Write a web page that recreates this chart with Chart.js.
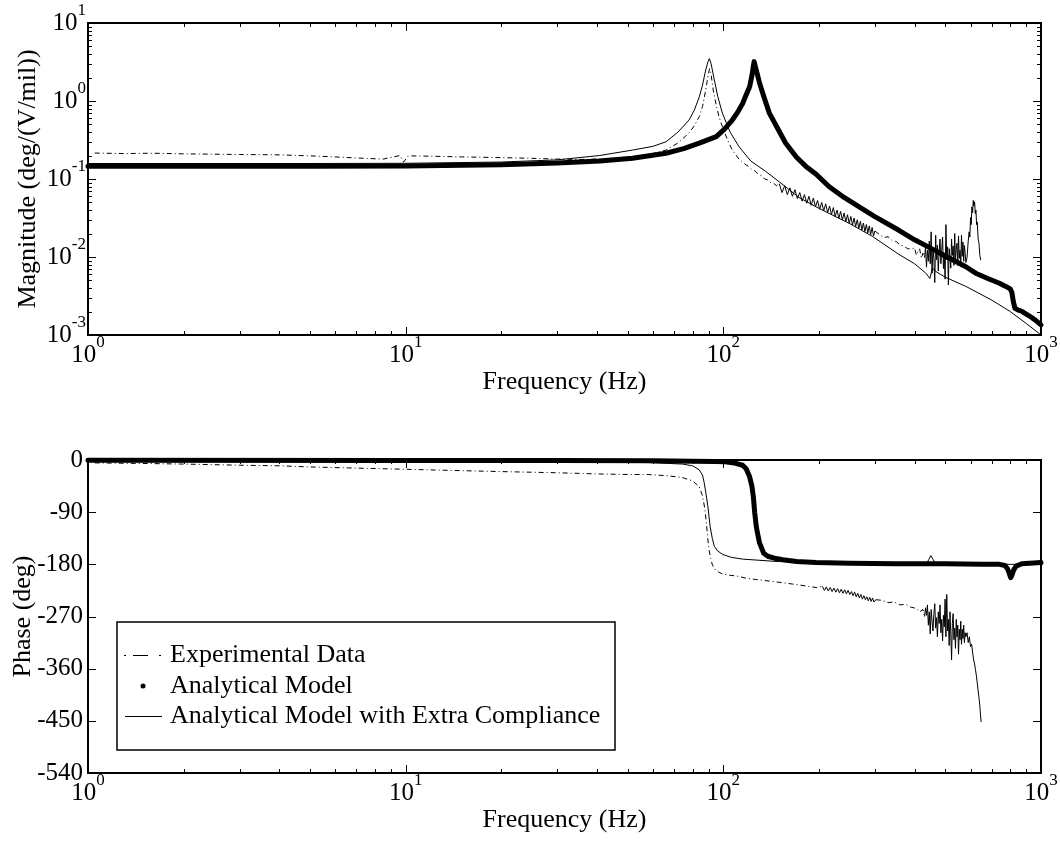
<!DOCTYPE html>
<html lang="en">
<head>
    <meta charset="UTF-8">
    <meta name="viewport" content="width=device-width, initial-scale=1.0">
    <title>Magnitude and Phase Response</title>
    <script src="https://cdn.jsdelivr.net/npm/chart.js"></script>
    <style>
        * {
            margin: 0;
            padding: 0;
            box-sizing: border-box;
        }

        body {
            background: #fff;
            width: 1060px;
            height: 846px;
            overflow: hidden;
            position: relative;
        }

        .panel {
            position: absolute;
            left: 0;
            width: 1060px;
        }

        #magPanel {
            top: 0;
            height: 400px;
        }

        #phasePanel {
            top: 400px;
            height: 446px;
        }
    </style>
</head>
<body>
    <div class="panel" id="magPanel"><canvas id="magChart"></canvas></div>
    <div class="panel" id="phasePanel"><canvas id="phaseChart"></canvas></div>

    <script>
        const seriesNames = ['Experimental Data', 'Analytical Model', 'Analytical Model with Extra Compliance'];
        const freqExponents = [0, 1, 2, 3];
        const magExponents = [1, 0, -1, -2, -3];
        const phaseTicks = [0, -90, -180, -270, -360, -450, -540];

        // magnitude, experimental (deg/(V/mil))
        const expMagFreq = [
            1.05, 1.3, 1.6, 2, 2.5, 3, 4, 5, 6, 7, 8.5, 9.6, 9.85, 10.2, 12, 15, 20, 25, 30, 35,
            40, 45, 50, 55, 60, 66, 72, 78, 81, 84, 86, 88, 89.5, 90.5, 91.5, 93, 95, 97, 99.3, 103, 106.7, 112, 117,
            120, 123, 126, 129, 132, 135, 138, 141, 144, 147,
            150, 153, 156, 159, 162, 165, 168, 171, 174, 177, 180, 183, 186, 189, 192, 195, 198, 201, 204, 207,
            210, 213, 216, 219, 222, 225, 228, 231, 234, 237, 240, 243, 246, 249, 252, 255, 258, 261, 264, 267,
            270, 273, 276, 279, 282, 285, 288, 291, 294, 297, 300,
            310, 320, 330, 340, 350, 360, 370, 380, 390, 400, 405, 410, 415, 420, 425,
            430, 433, 436, 439, 442, 445, 448, 451, 454, 457, 460, 463, 466, 469, 472, 475, 478, 481, 484, 487,
            490, 493, 496, 499, 502, 505, 508, 511, 514, 517, 520, 523, 526, 529, 532, 535, 538, 541, 544, 547,
            550, 553, 556, 559, 562, 565, 568, 571, 574, 577, 580,
            585, 590, 594, 597, 600, 603, 606, 609, 612, 615, 618, 621, 624, 627, 630, 634, 638, 642, 646
        ];
        const expMag = [
            0.215, 0.212, 0.214, 0.21, 0.208, 0.206, 0.204, 0.198, 0.192, 0.186, 0.18, 0.2, 0.165, 0.198, 0.196, 0.192, 0.188, 0.184, 0.18, 0.178,
            0.18, 0.185, 0.192, 0.2, 0.212, 0.235, 0.29, 0.39, 0.48, 0.63, 0.85, 1.38, 2.1, 2.6, 2.2, 1.35, 0.88, 0.62, 0.47, 0.32, 0.235, 0.18, 0.155,
            0.145, 0.132, 0.126, 0.115, 0.11, 0.1, 0.097, 0.09, 0.088, 0.082,
            0.087, 0.067, 0.082, 0.063, 0.077, 0.06, 0.073, 0.056, 0.067, 0.052, 0.063, 0.049, 0.06, 0.046, 0.057, 0.044, 0.053, 0.041, 0.05, 0.039,
            0.048, 0.037, 0.045, 0.035, 0.043, 0.033, 0.04, 0.0313, 0.0384, 0.0298, 0.0366, 0.0284, 0.0348, 0.027, 0.0331, 0.0257, 0.0316, 0.0245, 0.03, 0.0233,
            0.0287, 0.0222, 0.0273, 0.0212, 0.0261, 0.0203, 0.025, 0.0194, 0.0239, 0.0186, 0.0215,
            0.0195, 0.0178, 0.0182, 0.0162, 0.0158, 0.0142, 0.0138, 0.0128, 0.0126, 0.0131, 0.0106, 0.0117, 0.0127, 0.0096, 0.0112,
            0.0098, 0.0135, 0.0074, 0.0122, 0.0088, 0.016, 0.0082, 0.021, 0.0062, 0.013, 0.0095, 0.0047, 0.019, 0.0092, 0.0142, 0.0066, 0.0118, 0.017, 0.0082, 0.0125,
            0.018, 0.0071, 0.011, 0.0052, 0.026, 0.0092, 0.0135, 0.0044, 0.0128, 0.0095, 0.0072, 0.017, 0.0105, 0.0138, 0.0078, 0.02, 0.0092, 0.0125, 0.015, 0.0078,
            0.0186, 0.0096, 0.0122, 0.0075, 0.019, 0.0102, 0.0155, 0.0088, 0.014, 0.0112, 0.0085,
            0.0098, 0.016, 0.021, 0.018, 0.032, 0.026, 0.044, 0.037, 0.053, 0.045, 0.051, 0.036, 0.04, 0.026, 0.028, 0.017, 0.015, 0.0105, 0.0091
        ];

        // magnitude, analytical model
        const modelMagFreq = [
            1, 5, 10, 20, 30, 40.8, 51.8, 66, 75, 84, 95, 101, 106.7, 111, 115, 118, 121, 123, 124.3, 125,
            126, 128, 130, 134, 139.6, 148, 157, 170, 182, 196, 215, 240, 270, 300, 357, 400, 454, 500, 580, 623,
            680, 740, 775, 800, 810, 818, 828, 845, 873, 920, 960, 1000
        ];
        const modelMag = [
            0.146, 0.146, 0.147, 0.152, 0.16, 0.17, 0.184, 0.214, 0.245, 0.288, 0.35, 0.44, 0.57, 0.72, 0.93, 1.2, 1.52, 2.1, 2.8, 3.2,
            2.8, 2.2, 1.7, 1.15, 0.7, 0.45, 0.29, 0.19, 0.145, 0.115, 0.08, 0.058, 0.043, 0.033, 0.022, 0.0166, 0.0127, 0.0103, 0.0075, 0.0062,
            0.0053, 0.0046, 0.0042, 0.0039, 0.0035, 0.0027, 0.0022, 0.0021, 0.002, 0.00175, 0.00155, 0.00135
        ];

        // magnitude, analytical model with extra compliance
        const compMagFreq = [
            1, 5, 10, 20, 30, 40.8, 51.8, 60, 66, 72, 78, 81, 84, 86, 88, 89.5, 90.4, 91.5, 93.7, 96,
            99.3, 105, 112, 122, 136, 150, 173, 200, 249, 294, 357, 400, 434, 441, 447, 455, 470, 500, 580, 700,
            800, 900, 1000
        ];
        const compMag = [
            0.158, 0.158, 0.159, 0.165, 0.176, 0.2, 0.235, 0.262, 0.3, 0.4, 0.57, 0.76, 1.13, 1.6, 2.5, 3.2, 3.5, 3.0, 1.86, 1.15,
            0.7, 0.4, 0.26, 0.17, 0.125, 0.092, 0.058, 0.042, 0.027, 0.0185, 0.0108, 0.0082, 0.0062, 0.0057, 0.0053, 0.0072, 0.0064, 0.0055, 0.0042, 0.0028,
            0.002, 0.0014, 0.001
        ];

        // phase, experimental (deg)
        const expPhaseFreq = [
            1.05, 1.5, 2, 3, 4, 5, 7, 10, 14, 20, 30, 40, 50, 58, 66, 74, 80, 84, 86, 87.5,
            88.5, 89.3, 90.2, 91.2, 92.4, 94.5, 97, 100, 105, 110, 118, 126, 135, 145, 155, 165, 175, 185, 196,
            205, 208, 211, 214, 217, 220, 223, 226, 229, 232, 235, 238, 241, 244, 247, 250, 253, 256, 259, 262,
            265, 268, 271, 274, 277, 280, 283, 286, 289, 292, 295, 298, 302,
            315, 330, 345, 360, 375, 390, 405, 415, 425,
            430, 433, 436, 439, 442, 445, 448, 451, 454, 457, 460, 463, 466, 469, 472, 475, 478, 481, 484, 487,
            490, 493, 496, 499, 502, 505, 508, 511, 514, 517, 520, 523, 526, 529, 532, 535, 538, 541, 544, 547,
            550, 553, 556, 559, 562, 565, 568, 571, 574, 577, 580,
            585, 590, 595, 600, 605, 610, 614, 618, 622, 626, 630, 634, 638, 642, 645, 648
        ];
        const expPhase = [
            -5, -6, -7, -9, -10, -12, -14, -16, -18, -20, -22, -24, -25, -25, -27, -30, -36, -46, -62, -85,
            -110, -135, -155, -170, -181, -190, -194, -197, -199, -200, -204, -206, -208, -210, -212, -214, -216, -218, -220,
            -218, -225, -219, -226, -220, -227, -221, -228, -222, -229, -223, -230, -224, -231, -225, -232, -227, -234, -228, -236,
            -230, -238, -232, -240, -234, -241, -236, -243, -237, -244, -238, -245, -241,
            -242, -246, -245, -250, -249, -254, -256, -262, -258,
            -270, -255, -268, -250, -285, -262, -300, -258, -278, -295, -265, -248, -290, -272, -305, -262, -282, -250, -298, -275,
            -312, -268, -288, -240, -305, -232, -295, -275, -320, -262, -300, -345, -282, -265, -310, -290, -325, -275, -305, -285,
            -335, -292, -310, -278, -318, -292, -308, -285, -315, -298, -305,
            -298, -315, -305, -322, -318, -335, -345, -352, -362, -372, -385, -398, -410, -425, -440, -452
        ];

        // phase, analytical model
        const modelPhaseFreq = [
            1, 10, 30, 60, 80, 95, 101.5, 108, 115, 118, 121, 123, 124.3, 125.5, 127, 128.5, 130, 132, 134, 138,
            146.5, 154, 170, 196, 250, 350, 500, 650, 740, 770, 785, 795, 803, 810, 820, 835, 870, 920, 1000
        ];
        const modelPhase = [
            -0.5, -0.8, -1, -1.5, -2, -2.5, -3, -5, -9, -15, -29, -45, -63, -90, -115, -130, -143, -152, -161, -166,
            -170, -172, -175, -177, -178, -179, -179, -180, -180, -182, -188, -196, -203, -199, -190, -183, -179, -178, -177
        ];

        // phase, analytical model with extra compliance
        const compPhaseFreq = [
            1, 10, 30, 58.5, 74.3, 80, 84, 86, 87.1, 88.3, 89.4, 90.9, 92.3, 93.7, 96, 99.6, 106, 115, 146.5, 200,
            300, 420, 436, 443, 450, 458, 466, 600, 800, 1000
        ];
        const compPhase = [
            -0.5, -1, -2, -4.5, -7, -10, -17, -26, -40, -60, -80, -115, -135, -149, -157, -163, -168, -171, -175, -177,
            -178, -179, -179, -172, -165, -172, -179, -180, -180, -180
        ];

        const FONT = '"Liberation Serif", "Times New Roman", serif';
        const TICK_FONT = '25px ' + FONT;
        const SUP_FONT = '17px ' + FONT;
        const TITLE_FONT = '26px ' + FONT;
        const toPoints = (xs, ys) => xs.map((x, i) => ({ x: x, y: ys[i] }));

        function lineSet(label, xs, ys, style) {
            return Object.assign({
                label: label,
                data: toPoints(xs, ys),
                showLine: true,
                pointRadius: 0,
                borderColor: '#000',
                backgroundColor: '#000',
                tension: 0,
                fill: false
            }, style);
        }

        // where the measurement is dense it reads as a solid trace
        function expStyle(denseRanges) {
            const dense = x => denseRanges.some(r => x >= r[0] && x < r[1]);
            return {
                borderWidth: 1,
                borderDash: [5, 3, 1, 3],
                segment: { borderDash: c => (dense(c.p0.parsed.x) ? [] : undefined) }
            };
        }
        const modelStyle = { borderWidth: 5, borderCapStyle: 'round', borderJoinStyle: 'round', clip: 4 };
        const compStyle = { borderWidth: 1 };

        // minor ticks of a log axis, 2..9 in every decade
        function logMinor(lo, hi) {
            const out = [];
            for (let d = lo; d < hi; d++) {
                for (let k = 2; k <= 9; k++) out.push(k * Math.pow(10, d));
            }
            return out;
        }

        function powerLabel(ctx, exp, x, y, align) {
            ctx.font = TICK_FONT;
            const wBase = ctx.measureText('10').width;
            ctx.font = SUP_FONT;
            const wExp = ctx.measureText(exp).width;
            const x0 = align === 'right' ? x - wBase - wExp : x - (wBase + wExp) / 2;
            ctx.textAlign = 'left';
            ctx.textBaseline = 'middle';
            ctx.font = TICK_FONT;
            ctx.fillText('10', x0, y);
            ctx.textBaseline = 'alphabetic';
            ctx.font = SUP_FONT;
            ctx.fillText(exp, x0 + wBase, y - 8);
        }

        function strokeTicks(ctx, a, scale, values, len, horizontal) {
            ctx.beginPath();
            values.forEach(v => {
                const p = Math.round(scale.getPixelForValue(v)) + 0.5;
                if (horizontal) {
                    ctx.moveTo(p, a.bottom); ctx.lineTo(p, a.bottom - len);
                    ctx.moveTo(p, a.top); ctx.lineTo(p, a.top + len);
                } else {
                    ctx.moveTo(a.left, p); ctx.lineTo(a.left + len, p);
                    ctx.moveTo(a.right, p); ctx.lineTo(a.right - len, p);
                }
            });
            ctx.stroke();
        }

        function drawFrame(chart, yTitle, yTitleX, yMajor, yMinor, drawYLabels) {
            const { ctx, chartArea: a } = chart;
            const xs = chart.scales.x, ys = chart.scales.y;
            ctx.save();
            ctx.strokeStyle = '#000';
            ctx.fillStyle = '#000';
            ctx.lineWidth = 1;
            strokeTicks(ctx, a, xs, logMinor(0, 3), 4, true);
            strokeTicks(ctx, a, xs, freqExponents.map(e => Math.pow(10, e)), 8, true);
            strokeTicks(ctx, a, ys, yMinor, 4, false);
            strokeTicks(ctx, a, ys, yMajor, 8, false);
            ctx.lineWidth = 2;
            ctx.strokeRect(a.left, a.top, a.right - a.left, a.bottom - a.top);

            freqExponents.forEach(e => {
                powerLabel(ctx, String(e), xs.getPixelForValue(Math.pow(10, e)), a.bottom + 20, 'center');
            });
            drawYLabels(ctx, a, ys);

            ctx.font = TITLE_FONT;
            ctx.textAlign = 'center';
            ctx.textBaseline = 'middle';
            ctx.fillText('Frequency (Hz)', (a.left + a.right) / 2, a.bottom + 47);
            ctx.translate(yTitleX, (a.top + a.bottom) / 2);
            ctx.rotate(-Math.PI / 2);
            ctx.fillText(yTitle, 0, 0);
            ctx.restore();
        }

        function drawLegend(chart) {
            const { ctx, chartArea: a } = chart;
            const x = a.left + 29, y = a.top + 162, w = 498, h = 128;
            const rows = [y + 33, y + 64, y + 94];
            ctx.save();
            ctx.fillStyle = '#fff';
            ctx.fillRect(x, y, w, h);
            ctx.strokeStyle = '#000';
            ctx.fillStyle = '#000';
            ctx.lineWidth = 1.5;
            ctx.strokeRect(x, y, w, h);

            ctx.lineWidth = 1;
            ctx.fillRect(x + 7, rows[0], 2, 1);
            ctx.beginPath();
            ctx.moveTo(x + 16, rows[0] + 0.5);
            ctx.lineTo(x + 31, rows[0] + 0.5);
            ctx.stroke();
            ctx.fillRect(x + 42, rows[0], 2, 1);

            ctx.beginPath();
            ctx.arc(x + 26, rows[1], 2.5, 0, Math.PI * 2);
            ctx.fill();

            ctx.beginPath();
            ctx.moveTo(x + 8, rows[2] + 0.5);
            ctx.lineTo(x + 45, rows[2] + 0.5);
            ctx.stroke();

            ctx.font = TITLE_FONT;
            ctx.textAlign = 'left';
            ctx.textBaseline = 'middle';
            seriesNames.forEach((name, i) => ctx.fillText(name, x + 53, rows[i]));
            ctx.restore();
        }

        function hiddenAxis(extra) {
            return Object.assign({
                ticks: { display: false },
                grid: { display: false },
                border: { display: false }
            }, extra);
        }

        function chartOptions(yAxis, padTop, xHeight) {
            return {
                responsive: true,
                maintainAspectRatio: false,
                animation: false,
                layout: { padding: { top: padTop, right: 19, left: 0, bottom: 0 } },
                scales: {
                    x: hiddenAxis({
                        type: 'logarithmic', min: 1, max: 1000,
                        afterFit: s => { s.height = xHeight; }
                    }),
                    y: hiddenAxis(Object.assign({ afterFit: s => { s.width = 88; } }, yAxis))
                },
                plugins: {
                    legend: { display: false },
                    tooltip: { enabled: false }
                }
            };
        }

        const magTicks = magExponents.map(e => Math.pow(10, e));

        new Chart(document.getElementById('magChart'), {
            type: 'scatter',
            data: {
                datasets: [
                    lineSet(seriesNames[1], modelMagFreq, modelMag, modelStyle),
                    lineSet(seriesNames[2], compMagFreq, compMag, compStyle),
                    lineSet(seriesNames[0], expMagFreq, expMag, expStyle([[150, 300], [430, 700]]))
                ]
            },
            options: chartOptions({ type: 'logarithmic', min: 0.001, max: 10 }, 23, 65),
            plugins: [{
                id: 'magFrame',
                afterDraw: chart => drawFrame(chart, 'Magnitude (deg/(V/mil))', 28, magTicks, logMinor(-3, 1),
                    (ctx, a, ys) => {
                        magExponents.forEach(e => {
                            powerLabel(ctx, String(e), 86, ys.getPixelForValue(Math.pow(10, e)), 'right');
                        });
                    })
            }]
        });

        new Chart(document.getElementById('phaseChart'), {
            type: 'scatter',
            data: {
                datasets: [
                    lineSet(seriesNames[1], modelPhaseFreq, modelPhase, modelStyle),
                    lineSet(seriesNames[2], compPhaseFreq, compPhase, compStyle),
                    lineSet(seriesNames[0], expPhaseFreq, expPhase, expStyle([[205, 302], [430, 700]]))
                ]
            },
            options: chartOptions({ type: 'linear', min: -540, max: 0 }, 60, 73),
            plugins: [{
                id: 'phaseFrame',
                afterDraw: chart => {
                    drawFrame(chart, 'Phase (deg)', 23, phaseTicks, [],
                        (ctx, a, ys) => {
                            ctx.font = TICK_FONT;
                            ctx.textAlign = 'right';
                            ctx.textBaseline = 'middle';
                            phaseTicks.forEach(t => ctx.fillText(String(t), 83, ys.getPixelForValue(t)));
                        });
                    drawLegend(chart);
                }
            }]
        });
    </script>
</body>
</html>
